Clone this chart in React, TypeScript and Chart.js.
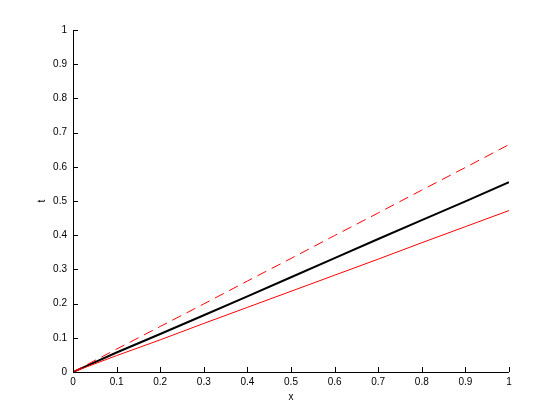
import React, { useEffect, useRef } from "react";
import { Chart, registerables } from "chart.js";

Chart.register(...registerables);

const xValues = [0, 0.1, 0.2, 0.3, 0.4, 0.5, 0.6, 0.7, 0.8, 0.9, 1];
const meanT = [0, 0.057, 0.111, 0.166, 0.221, 0.277, 0.333, 0.389, 0.444, 0.499, 0.555];
const upperT = [0, 0.067, 0.133, 0.199, 0.266, 0.332, 0.399, 0.465, 0.532, 0.598, 0.665];
const lowerT = [0, 0.048, 0.094, 0.142, 0.189, 0.236, 0.283, 0.33, 0.378, 0.425, 0.472];
const tickValues = [0, 0.1, 0.2, 0.3, 0.4, 0.5, 0.6, 0.7, 0.8, 0.9, 1];
const xTitle = "x";
const yTitle = "t";

const FONT = "'Liberation Sans', Arial, sans-serif";

const inwardTicks = {
  id: "inwardTicks",
  afterDraw(chart: any) {
    const ctx = chart.ctx;
    const xs = chart.scales.x;
    const ys = chart.scales.y;
    const area = chart.chartArea;
    ctx.save();
    ctx.strokeStyle = "#000";
    ctx.lineWidth = 1;
    ctx.beginPath();
    ctx.moveTo(area.left + 0.5, area.top);
    ctx.lineTo(area.left + 0.5, area.bottom + 0.5);
    ctx.lineTo(area.right, area.bottom + 0.5);
    for (const v of tickValues) {
      const px = Math.round(xs.getPixelForValue(v)) + 0.5;
      ctx.moveTo(px, area.bottom);
      ctx.lineTo(px, area.bottom - 5);
      const py = Math.round(ys.getPixelForValue(v)) + 0.5;
      ctx.moveTo(area.left, py);
      ctx.lineTo(area.left + 5, py);
    }
    ctx.stroke();
    ctx.fillStyle = "#000";
    ctx.font = `10px ${FONT}`;
    ctx.textAlign = "center";
    ctx.textBaseline = "middle";
    ctx.fillText(xTitle, (area.left + area.right) / 2, area.bottom + 25);
    ctx.translate(area.left - 31, (area.top + area.bottom) / 2);
    ctx.rotate(-Math.PI / 2);
    ctx.fillText(yTitle, 0, 0);
    ctx.restore();
  },
};

export default function App() {
  const ref = useRef<HTMLCanvasElement>(null);
  useEffect(() => {
    if (!ref.current) return;
    const mk = (arr: number[]) => xValues.map((x, i) => ({ x, y: arr[i] }));
    const chart = new Chart(ref.current, {
      type: "line",
      data: {
        datasets: [
          { data: mk(upperT), borderColor: "#ff0000", borderWidth: 1, borderDash: [10, 6], pointRadius: 0, tension: 0 },
          { data: mk(lowerT), borderColor: "#ff0000", borderWidth: 1, pointRadius: 0, tension: 0 },
          { data: mk(meanT), borderColor: "#000000", borderWidth: 2, pointRadius: 0, tension: 0 },
        ],
      },
      options: {
        animation: false,
        responsive: false,
        maintainAspectRatio: false,
        layout: { padding: { left: 0, top: 30, right: 51, bottom: 0 } },
        plugins: { legend: { display: false }, tooltip: { enabled: false } },
        scales: {
          x: {
            type: "linear",
            min: 0,
            max: 1,
            border: { display: false },
            grid: { display: false, drawTicks: false },
            afterBuildTicks: (s: any) => { s.ticks = tickValues.map((v) => ({ value: v })); },
            afterFit: (s: any) => { s.height = 47; },
            ticks: {
              color: "#000",
              font: { family: FONT, size: 10 },
              padding: 4,
              maxRotation: 0,
              autoSkip: false,
              callback: (v: any) => String(Math.round(Number(v) * 10) / 10),
            },
          },
          y: {
            type: "linear",
            min: 0,
            max: 1,
            border: { display: false },
            grid: { display: false, drawTicks: false },
            afterBuildTicks: (s: any) => { s.ticks = tickValues.map((v) => ({ value: v })); },
            afterFit: (s: any) => { s.width = 73; },
            ticks: {
              color: "#000",
              font: { family: FONT, size: 10 },
              padding: 6,
              autoSkip: false,
              callback: (v: any) => String(Math.round(Number(v) * 10) / 10),
            },
          },
        },
      },
      plugins: [inwardTicks],
    });
    return () => chart.destroy();
  }, []);
  return (
    <div style={{ position: "absolute", left: 0, top: 0, width: 560, height: 419, background: "#fff" }}>
      <canvas ref={ref} width={560} height={419} style={{ width: 560, height: 419 }} />
    </div>
  );
}
